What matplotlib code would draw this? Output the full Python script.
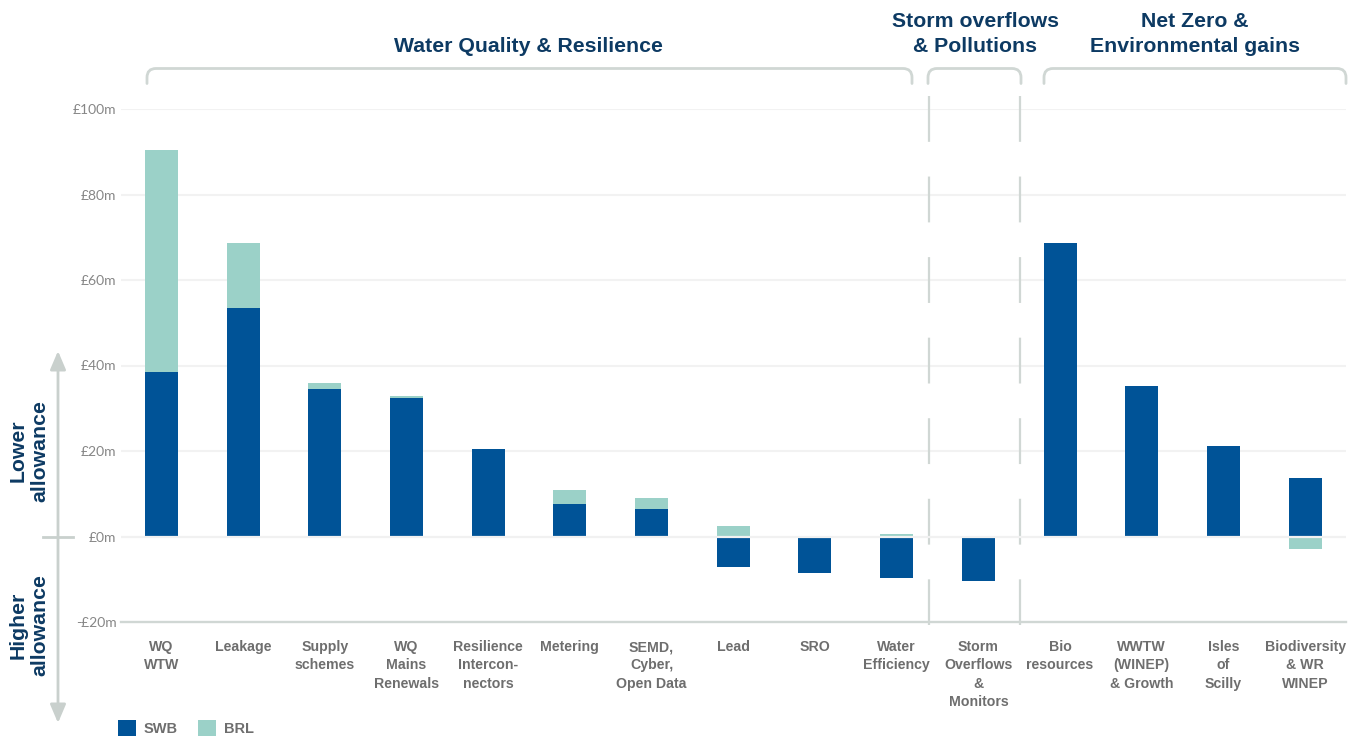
import numpy as np
import matplotlib
matplotlib.use("Agg")
import matplotlib.pyplot as plt
import matplotlib.transforms as mtransforms
from matplotlib.path import Path
from matplotlib.patches import PathPatch, FancyArrowPatch
from matplotlib.lines import Line2D

# ---- data -------------------------------------------------------------
categories = [
    "WQ\nWTW", "Leakage", "Supply\nschemes", "WQ\nMains\nRenewals",
    "Resilience\nIntercon-\nnectors", "Metering", "SEMD,\nCyber,\nOpen Data",
    "Lead", "SRO", "Water\nEfficiency", "Storm\nOverflows\n&\nMonitors",
    "Bio\nresources", "WWTW\n(WINEP)\n& Growth", "Isles\nof\nScilly",
    "Biodiversity\n& WR\nWINEP",
]
swb = [38.4, 53.4, 34.5, 32.4, 20.4, 7.6, 6.4, -7.1, -8.5, -9.6, -10.3,
       68.6, 35.2, 21.1, 13.7]
brl = [52.1, 15.2, 1.4, 0.5, 0.0, 3.3, 2.6, 2.5, 0.0, 0.6, 0.0,
       0.0, 0.0, 0.0, -3.0]
series_names = ["SWB", "BRL"]
yticks = [-20, 0, 20, 40, 60, 80, 100]
ytick_labels = ["-£20m", "£0m", "£20m", "£40m", "£60m", "£80m", "£100m"]
group_titles = [
    ["Water Quality & Resilience"],
    ["Storm overflows", "& Pollutions"],
    ["Net Zero &", "Environmental gains"],
]
side_labels = ["Lower\nallowance", "Higher\nallowance"]

# ---- style ------------------------------------------------------------
SWB_C = "#005397"
BRL_C = "#9BD1C8"
NAVY = "#0D3A63"
CAT_GREY = "#6E6E6E"
TICK_GREY = "#868686"
LINE_GREY = "#D0D7D4"
GRID_GREY = "#F2F2F2"

plt.rcParams["font.family"] = ["Liberation Sans", "DejaVu Sans"]
plt.rcParams["lines.scale_dashes"] = False

W, H = 1359, 737
fig = plt.figure(figsize=(W / 100, H / 100), dpi=100)
fig.patch.set_facecolor("white")

# pixel-based figure transform (origin top-left)
px = mtransforms.Affine2D().scale(1 / W, -1 / H).translate(0, 1) + fig.transFigure

ax_left, ax_right, ax_top, ax_bot = 120.6, 1346.0, 109.0, 622.0
ax = fig.add_axes([ax_left / W, 1 - ax_bot / H,
                   (ax_right - ax_left) / W, (ax_bot - ax_top) / H])

x = np.arange(len(categories))
swb_a = np.array(swb)
brl_a = np.array(brl)
brl_bottom = np.where(np.sign(brl_a) == np.sign(swb_a), swb_a, 0.0)

bars_swb = ax.bar(x, swb_a, 0.404, color=SWB_C, zorder=2, label=series_names[0])
bars_brl = ax.bar(x, brl_a, 0.404, bottom=brl_bottom, color=BRL_C, zorder=2,
                  label=series_names[1])

ax.set_xlim(-0.5, 14.5)
ax.set_ylim(-20, 100)
ax.set_yticks(yticks, ytick_labels)
ax.set_xticks(x, categories)

for t in yticks[2:]:
    ax.axhline(t, color=GRID_GREY, lw=1.5, zorder=0.5)
ax.axhline(0, color="#F1F1F1", lw=1.6, zorder=3)

for s in ("top", "right", "left"):
    ax.spines[s].set_visible(False)
ax.spines["bottom"].set_color(LINE_GREY)
ax.spines["bottom"].set_linewidth(1.7)
ax.spines["bottom"].set_zorder(4)

ax.tick_params(axis="x", length=0, pad=13, labelsize=10.2, labelcolor=CAT_GREY)
ax.tick_params(axis="y", length=0, pad=3, labelsize=10, labelcolor=TICK_GREY)
for lbl in ax.get_xticklabels():
    lbl.set_fontweight("bold")
    lbl.set_linespacing(1.4)
for lbl in ax.get_yticklabels():
    lbl.set_family(["Lato", "DejaVu Sans"])
    lbl.set_fontweight("normal")

# dashed separators between groups
sep_tr = mtransforms.blended_transform_factory(ax.transData, px)
for xs in (9.39, 10.51):
    ax.add_line(Line2D([xs, xs], [96, 625], transform=sep_tr, color=LINE_GREY,
                       lw=1.6, dashes=(33, 25), clip_on=False, zorder=1))

# group brackets
def bracket(x0, x1, ytop=68.5, ybot=83.5, r=9):
    verts = [(x0, ybot), (x0, ytop + r), (x0, ytop), (x0 + r, ytop),
             (x1 - r, ytop), (x1, ytop), (x1, ytop + r), (x1, ybot)]
    codes = [Path.MOVETO, Path.LINETO, Path.CURVE3, Path.CURVE3,
             Path.LINETO, Path.CURVE3, Path.CURVE3, Path.LINETO]
    fig.add_artist(PathPatch(Path(verts, codes), transform=px, fill=False,
                             edgecolor=LINE_GREY, lw=2.0, capstyle="round"))

bracket(147, 912)
bracket(928, 1021)
bracket(1044, 1346)

title_pos = [(528.5, [52]), (975, [27, 52]), (1195, [27, 52])]
for lines, (cx, baselines) in zip(group_titles, title_pos):
    for line, yb in zip(lines, baselines):
        fig.text(cx, yb, line, transform=px, ha="center", va="baseline",
                 fontsize=15.3, fontweight="bold", color=NAVY)

# left-hand direction arrow
fig.add_artist(FancyArrowPatch((58, 351), (58, 723), transform=px,
                               arrowstyle="<|-|>,head_length=0.8,head_width=0.34",
                               mutation_scale=14, color="#C9D0CD", lw=2.0,
                               shrinkA=0, shrinkB=0))
fig.add_artist(Line2D([43, 73], [537, 537], transform=px, color="#C9D0CD", lw=2.0))

for txt, cy in zip(side_labels, (451, 625)):
    fig.text(29, cy, txt, transform=px, rotation=90, ha="center", va="center",
             multialignment="center", fontsize=15.3, fontweight="bold",
             color=NAVY, linespacing=1.12)

# legend
fig.legend(handles=[bars_swb, bars_brl], labels=series_names,
           loc="lower left", bbox_to_anchor=(118 / W, 1 / H), ncol=2,
           frameon=False, borderpad=0, borderaxespad=0,
           handlelength=1.22, handleheight=1.3, handletextpad=0.55,
           columnspacing=1.4,
           prop={"weight": "bold", "size": 10.5}, labelcolor=CAT_GREY)

fig.savefig("out.png", dpi=100, facecolor="white")
